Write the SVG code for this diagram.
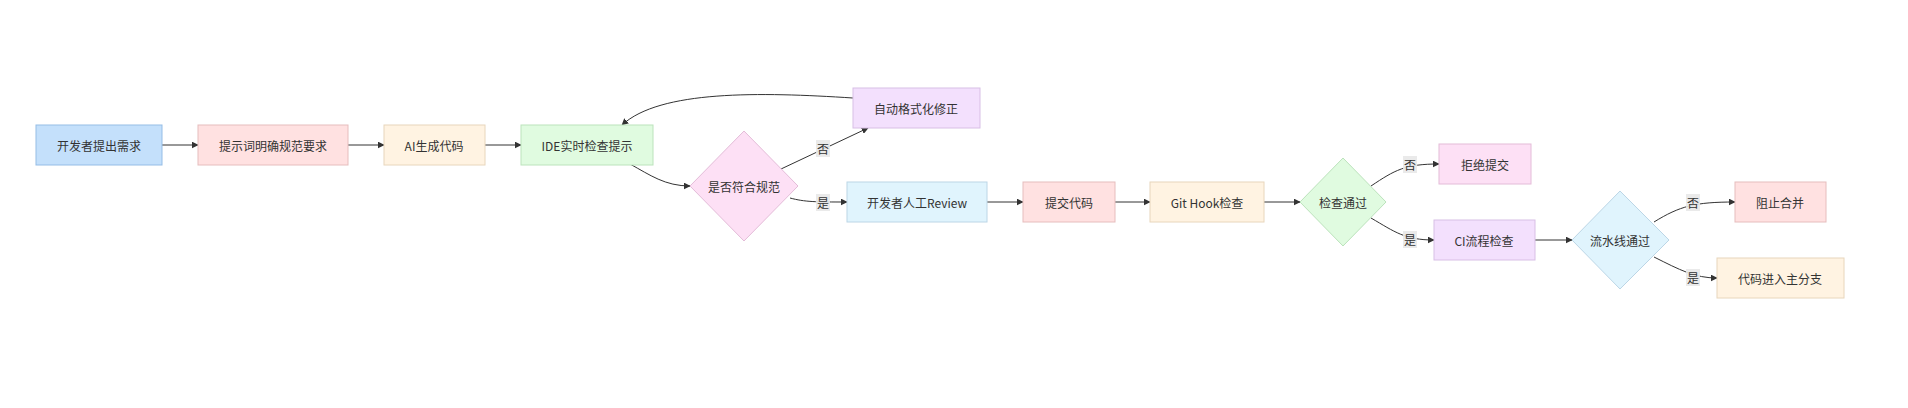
<svg xmlns="http://www.w3.org/2000/svg" width="1908" height="408" viewBox="0 0 1908 408">
<style>
text{font-family:"Noto Sans CJK SC","Liberation Sans",sans-serif;font-size:12px;fill:#333;text-anchor:middle;dominant-baseline:central}
.e{fill:none;stroke:#333;stroke-width:1}
.lb{fill:#e8e8e8;opacity:.9}
.b{fill:#c4e0fb;stroke:#95bde6}.r{fill:#ffe1e1;stroke:#e6bdbd}.o{fill:#fff3e2;stroke:#e8d6bc}.g{fill:#e0fbe0;stroke:#bce3bc}.p{fill:#fde0f5;stroke:#e3bcd8}.v{fill:#f3e0fd;stroke:#d8bfe5}.c{fill:#e0f4fd;stroke:#bcd6e6}
</style>
<defs><marker id="a" viewBox="0 0 10 10" refX="9" refY="5" markerWidth="7" markerHeight="7" orient="auto"><path d="M0,0L10,5L0,10z" fill="#333"/></marker></defs>
<g id="edges">
<path class="e" marker-end="url(#a)" d="M162,145H198"/>
<path class="e" marker-end="url(#a)" d="M348,145H384"/>
<path class="e" marker-end="url(#a)" d="M485,145H521"/>
<path class="e" marker-end="url(#a)" d="M630,164C650,175 665,186 690,186"/>
<path class="e" marker-end="url(#a)" d="M781,169L868,128"/>
<path class="e" marker-end="url(#a)" d="M853,98C760,92 660,90 622,125"/>
<path class="e" marker-end="url(#a)" d="M790,198C805,202 815,202 847,202"/>
<path class="e" marker-end="url(#a)" d="M987,202H1023"/>
<path class="e" marker-end="url(#a)" d="M1115,202H1150"/>
<path class="e" marker-end="url(#a)" d="M1264,202H1300"/>
<path class="e" marker-end="url(#a)" d="M1371,186C1395,170 1405,164 1439,164"/>
<path class="e" marker-end="url(#a)" d="M1371,218C1395,232 1405,240 1434,240"/>
<path class="e" marker-end="url(#a)" d="M1535,240H1572"/>
<path class="e" marker-end="url(#a)" d="M1654,222C1680,206 1695,202 1735,202"/>
<path class="e" marker-end="url(#a)" d="M1654,257C1680,270 1695,278 1717,278"/>
<rect class="lb" x="816" y="140" width="14" height="17"/><text x="823" y="148">否</text>
<rect class="lb" x="816" y="194" width="14" height="17"/><text x="823" y="202">是</text>
<rect class="lb" x="1403" y="156" width="14" height="17"/><text x="1410" y="164">否</text>
<rect class="lb" x="1403" y="231" width="14" height="17"/><text x="1410" y="239">是</text>
<rect class="lb" x="1686" y="194" width="14" height="17"/><text x="1693" y="202">否</text>
<rect class="lb" x="1686" y="269" width="14" height="17"/><text x="1693" y="277">是</text>
</g>
<g id="n1"><rect class="b" x="36" y="125" width="126" height="40"/><text x="99" y="145">开发者提出需求</text></g>
<g id="n2"><rect class="r" x="198" y="125" width="150" height="40"/><text x="273" y="145">提示词明确规范要求</text></g>
<g id="n3"><rect class="o" x="384" y="125" width="101" height="40"/><text x="434" y="145">AI生成代码</text></g>
<g id="n4"><rect class="g" x="521" y="125" width="132" height="40"/><text x="587" y="145">IDE实时检查提示</text></g>
<g id="n5"><path class="p" d="M744,131L798,186L744,241L690,186z"/><text x="744" y="186">是否符合规范</text></g>
<g id="n6"><rect class="v" x="853" y="88" width="127" height="40"/><text x="916" y="108">自动格式化修正</text></g>
<g id="n7"><rect class="c" x="847" y="182" width="140" height="40"/><text x="917" y="202">开发者人工Review</text></g>
<g id="n8"><rect class="r" x="1023" y="182" width="92" height="40"/><text x="1069" y="202">提交代码</text></g>
<g id="n9"><rect class="o" x="1150" y="182" width="114" height="40"/><text x="1207" y="202">Git Hook检查</text></g>
<g id="n10"><path class="g" d="M1343,158L1386,202L1343,246L1300,202z"/><text x="1343" y="202">检查通过</text></g>
<g id="n11"><rect class="p" x="1439" y="144" width="92" height="40"/><text x="1485" y="164">拒绝提交</text></g>
<g id="n12"><rect class="v" x="1434" y="220" width="101" height="40"/><text x="1484" y="240">CI流程检查</text></g>
<g id="n13"><path class="c" d="M1620,191L1669,240L1620,289L1572,240z"/><text x="1620" y="240">流水线通过</text></g>
<g id="n14"><rect class="r" x="1735" y="182" width="91" height="40"/><text x="1780" y="202">阻止合并</text></g>
<g id="n15"><rect class="o" x="1717" y="258" width="127" height="40"/><text x="1780" y="278">代码进入主分支</text></g>
</svg>
